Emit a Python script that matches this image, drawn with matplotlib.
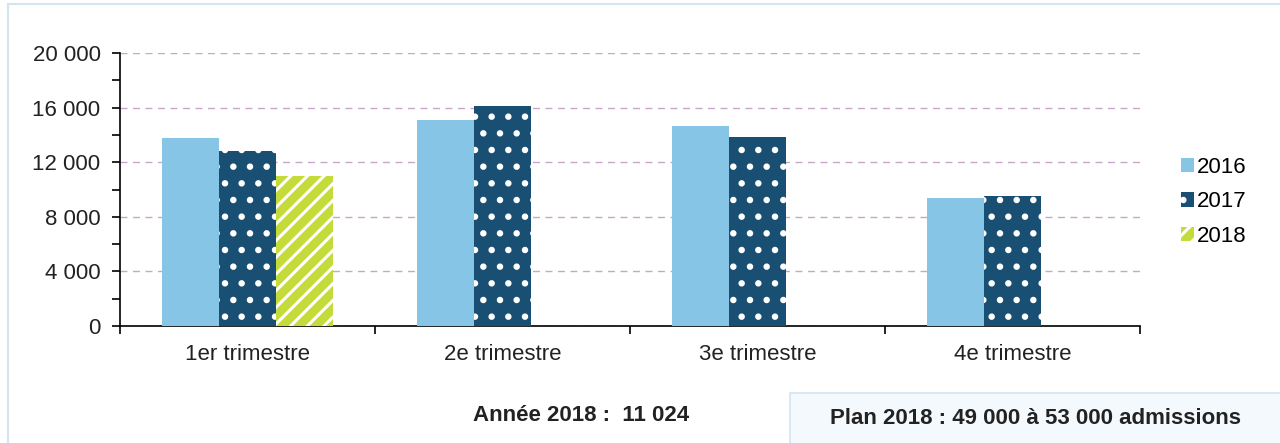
import matplotlib.pyplot as plt
from matplotlib.patches import Rectangle
import numpy as np

plt.rcParams['font.family'] = ['Liberation Sans', 'DejaVu Sans']
plt.rcParams['hatch.linewidth'] = 2.2

# data
categories = ["1er trimestre", "2e trimestre", "3e trimestre", "4e trimestre"]
years = ["2016", "2017", "2018"]
v2016 = [13750, 15100, 14650, 9400]
v2017 = [12850, 16100, 13850, 9550]
v2018 = [11024, None, None, None]
yticks = [0, 4000, 8000, 12000, 16000, 20000]
ytick_labels = ["0", "4 000", "8 000", "12 000", "16 000", "20 000"]
annee_text = "Année 2018 :  11 024"
plan_text = "Plan 2018 : 49 000 à 53 000 admissions"

colors = ["#86C5E6", "#194F73", "#C4DB3A"]
hatches = [None, ".", "//"]

fig = plt.figure(figsize=(12.8, 4.43), dpi=100)
ax = fig.add_axes([0.09375, 0.264, 0.797, 0.616])

x = np.arange(len(categories))
w = 0.2235
series = [v2016, v2017, v2018]
for i, (vals, c, h) in enumerate(zip(series, colors, hatches)):
    xs = [xi + (i - 1) * w for xi, v in zip(x, vals) if v is not None]
    ys = [v for v in vals if v is not None]
    if h:
        ax.bar(xs, ys, w, color=c, hatch=h, edgecolor="white", linewidth=0,
               zorder=3, label=years[i])
    else:
        ax.bar(xs, ys, w, color=c, linewidth=0, zorder=3, label=years[i])

ax.set_xlim(-0.5, len(categories) - 0.5)
ax.set_ylim(0, 20000)
ax.set_yticks(yticks)
ax.set_yticklabels(ytick_labels, fontsize=16, color="#222222")
ax.set_yticks(np.arange(2000, 20000, 4000), minor=True)
ax.set_xticks(np.arange(-0.5, len(categories), 1.0))
ax.set_xticklabels([])
ax.set_xticks(x, minor=True)
ax.set_xticklabels(categories, minor=True, fontsize=16, color="#222222")
ax.tick_params(axis="x", which="minor", length=0, pad=13)
ax.tick_params(axis="x", which="major", length=6, width=1.2, direction="out")
ax.tick_params(axis="y", which="both", length=6, width=1.2, direction="out", pad=8)

ax.grid(axis="y", which="major", color="#C8A6C8", linestyle=(0, (5, 4)),
        linewidth=1, zorder=0)
for s in ["top", "right"]:
    ax.spines[s].set_visible(False)
for s in ["left", "bottom"]:
    ax.spines[s].set_linewidth(1.2)

leg = ax.legend(loc="center left", bbox_to_anchor=(1.02, 0.455), frameon=False,
                fontsize=16, handlelength=0.6, handleheight=0.6,
                handletextpad=0.15, labelspacing=0.6)

# outer frame and note box
fig.patches.append(Rectangle((0.006, -0.05), 1.1, 1.04, transform=fig.transFigure,
                             fill=False, edgecolor="#D3E5F1", linewidth=1.5))
fig.patches.append(Rectangle((0.617, -0.05), 0.5, 0.163, transform=fig.transFigure,
                             facecolor="#F4F9FD", edgecolor="#D3E5F1", linewidth=1.2))
fig.text(0.454, 0.063, annee_text, ha="center", va="center",
         fontsize=16, fontweight="bold", color="#222222")
fig.text(0.809, 0.056, plan_text, ha="center", va="center",
         fontsize=16, fontweight="bold", color="#222222")

fig.savefig("out.png", dpi=100)
